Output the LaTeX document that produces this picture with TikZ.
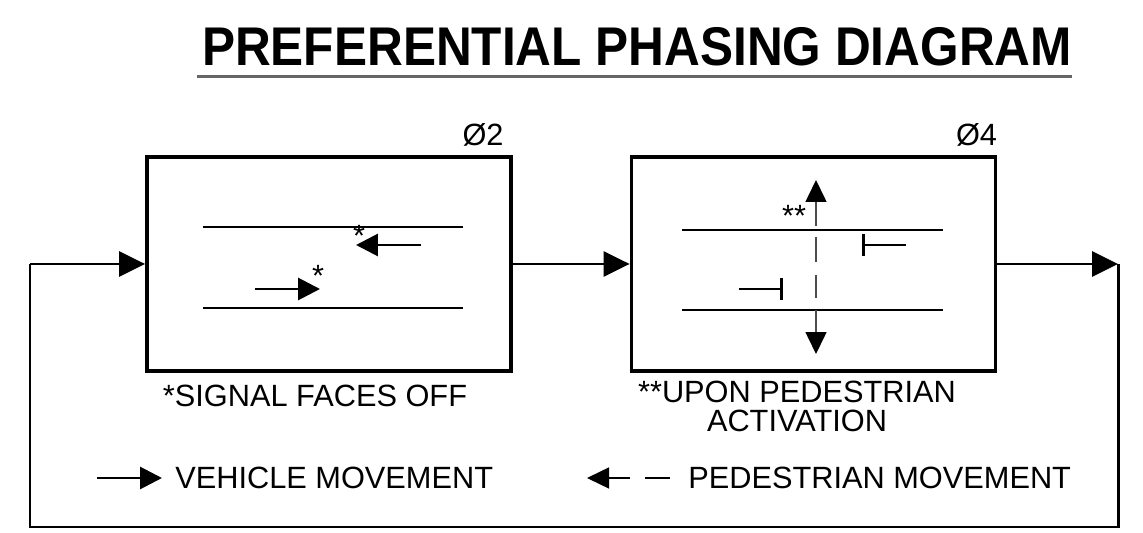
\documentclass[tikz,border=0pt]{standalone}
\usepackage{fontspec}
\setmainfont{Liberation Sans}
\usetikzlibrary{arrows.meta,positioning}

\begin{document}
\begin{tikzpicture}[
    x=0.02cm, y=-0.02cm,
    every node/.style={font=\fontsize{17.5}{16.5}\selectfont, inner sep=0pt},
    phase/.style={rectangle, draw, line width=2.2pt, minimum width=7.28cm, minimum height=4.28cm},
    flow/.style={-{Triangle[length=0.52cm, width=0.5cm]}, line width=1.7pt},
    loopline/.style={line width=1.7pt},
    lane/.style={line width=1.7pt},
    vehicle/.style={-{Triangle[length=0.44cm, width=0.44cm]}, line width=1.7pt},
    ped/.style={line width=0.9pt, black!70},
    pedtip/.style={-{Triangle[length=0.44cm, width=0.42cm, color=black]}, ped},
    stopbar/.style={{Bar[width=0.44cm]}-, line width=1.7pt},
]
\fill[white] (0,0) rectangle (1143,533);
\useasboundingbox (0,0) rectangle (1143,533);

% title
\node[font=\bfseries\fontsize{28.2}{30}\selectfont] (title) at (637,47) {\scalebox{1}[1.1]{PREFERENTIAL PHASING DIAGRAM}};
\draw[line width=1.4pt, black!60] ([xshift=-0.1cm, yshift=-0.2cm]title.south west) -- ([yshift=-0.2cm]title.south east);

% phase boxes
\node[phase] (phaseA) at (329,264) {};
\node[phase] (phaseB) at (813.5,264) {};
\node[anchor=base east, xshift=-0.18cm, yshift=0.2cm] (labA) at (phaseA.north east) {Ø2};
\node[anchor=base east, yshift=0.2cm] (labB) at (phaseB.north east) {Ø4};

% sequence loop
\coordinate (loopR) at (1118,264);
\coordinate (loopL) at (30,264);
\draw[flow] (phaseA) -- (phaseB);
\draw[flow] (phaseB) -- (loopR);
\draw[loopline] (loopR) -- ++(0,263) -| (loopL);
\draw[flow] (loopL) -- (phaseA);

% phase 2 movements
\draw[lane] (203,227) -- (463,227);
\draw[lane] (203,308) -- (463,308);
\draw[vehicle] (421,245) -- (356,245);
\node (starA) at (359,236) {*};
\draw[vehicle] (255,289) -- (320,289);
\node (starB) at (318,276) {*};

% phase 4 movements
\draw[lane] (682,230) -- (943,230);
\draw[lane] (682,310) -- (943,310);
\draw[pedtip] (816,226) -- (816,180);
\draw[ped, dash pattern=on 14.2pt off 7.4pt] (816,237) -- (816,298);
\draw[pedtip] (816,310) -- (816,354);
\node (starC) at (794,216) {**};
\draw[stopbar] (862,245) -- (906,245);
\draw[stopbar] (783,289) -- (739,289);

% notes
\node (offnote) at (315,396) {*SIGNAL FACES OFF};
\node[align=center] (pednote) at (797,406) {**UPON PEDESTRIAN\\ACTIVATION};

% legend
\node[anchor=west] (vehkey) at (175,478) {VEHICLE MOVEMENT};
\draw[vehicle] ([xshift=-1.56cm]vehkey.west) -- ([xshift=-0.26cm]vehkey.west);
\node[anchor=west] (pedkey) at (688,478) {PEDESTRIAN MOVEMENT};
\draw[pedtip, black] ([xshift=-1.16cm]pedkey.west) -- ([xshift=-2.02cm]pedkey.west);
\draw[ped, black] ([xshift=-0.86cm]pedkey.west) -- ([xshift=-0.36cm]pedkey.west);
\end{tikzpicture}
\end{document}
